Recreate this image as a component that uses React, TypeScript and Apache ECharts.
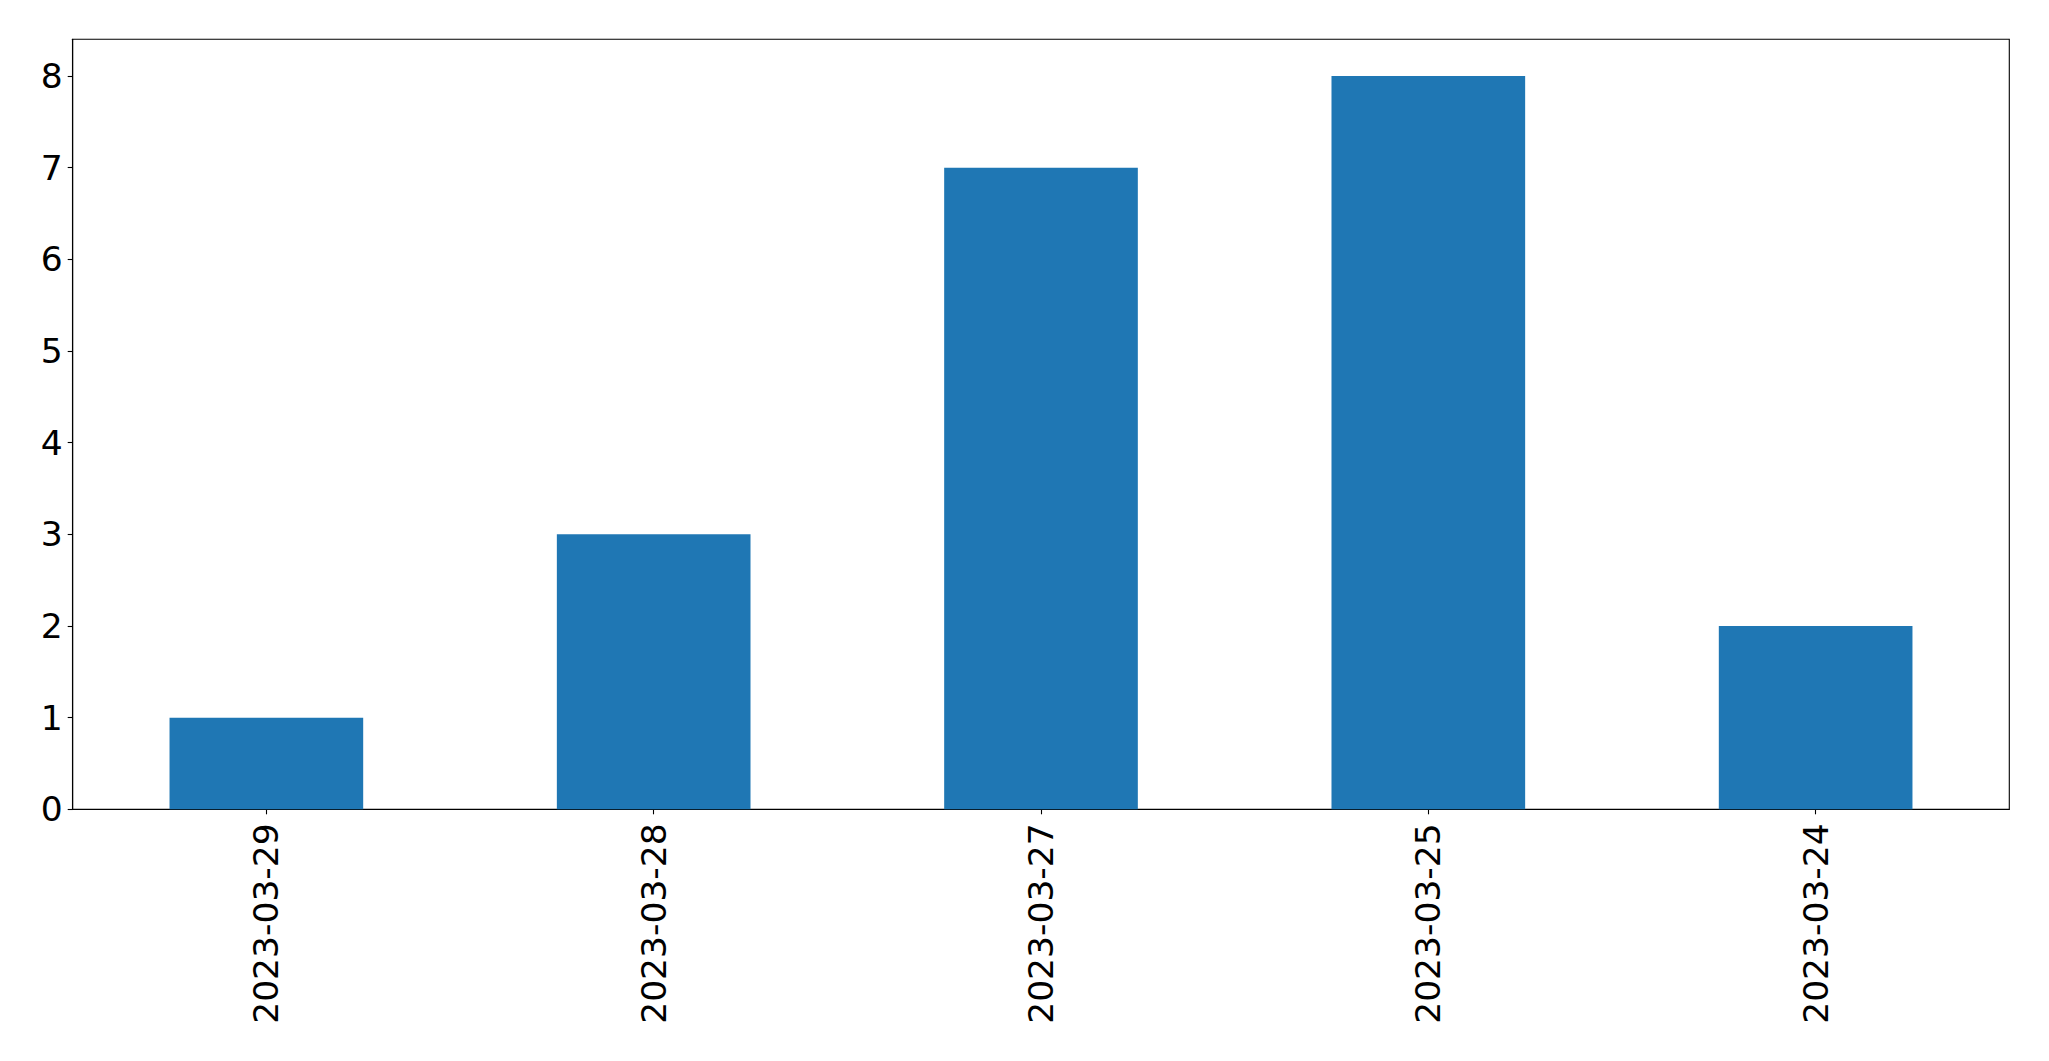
import React, { useEffect, useRef } from "react";
import * as echarts from "echarts";

const categories = ["2023-03-29", "2023-03-28", "2023-03-27", "2023-03-25", "2023-03-24"];
const values = [1, 3, 7, 8, 2];
const yTicks = [0, 1, 2, 3, 4, 5, 6, 7, 8];

export default function App() {
  const ref = useRef<HTMLDivElement>(null);
  useEffect(() => {
    document.body.style.margin = "0";
    const chart = echarts.init(ref.current!, null, { renderer: "svg" });
    const font = "DejaVu Sans";
    chart.setOption({
      animation: false,
      backgroundColor: "#ffffff",
      grid: {
        left: 72.7,
        right: 39.7,
        top: 39.3,
        bottom: 251.7,
        show: true,
        borderColor: "#000000",
        borderWidth: 1.1,
        backgroundColor: "transparent",
      },
      xAxis: {
        type: "category",
        data: categories,
        axisLine: { show: true, lineStyle: { color: "#000", width: 1.1 } },
        axisTick: { show: true, alignWithLabel: true, length: 5, lineStyle: { color: "#000", width: 1.1 } },
        axisLabel: {
          rotate: 90,
          margin: 14,
          fontSize: 34.5,
          fontFamily: font,
          color: "#000",
          interval: 0,
        },
        splitLine: { show: false },
      },
      yAxis: {
        type: "value",
        min: 0,
        max: 8.4,
        interval: 1,
        axisLine: { show: true, lineStyle: { color: "#000", width: 1.1 } },
        axisTick: {
          show: true,
          length: 5,
          lineStyle: { color: "#000", width: 1.1 },
          customValues: yTicks,
        },
        axisLabel: {
          margin: 10,
          fontSize: 34.5,
          fontFamily: font,
          color: "#000",
          customValues: yTicks,
        },
        splitLine: { show: false },
      },
      series: [
        {
          type: "bar",
          data: values,
          barWidth: "50%",
          itemStyle: { color: "#1f77b4" },
        },
      ],
    });
    return () => chart.dispose();
  }, []);
  return <div ref={ref} style={{ width: 2049, height: 1061 }} />;
}
